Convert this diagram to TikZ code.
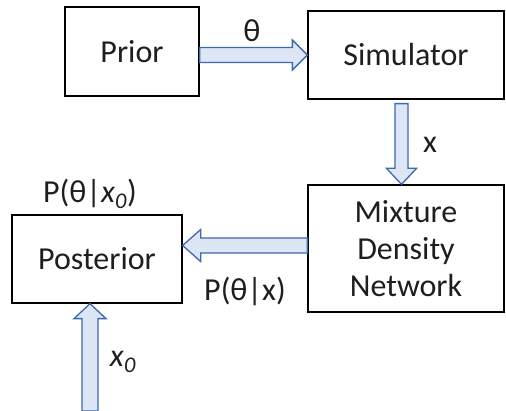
\documentclass[tikz,border=0pt]{standalone}
\usepackage{fontspec}
\setmainfont{Carlito}
\usetikzlibrary{calc}
\definecolor{arrfill}{HTML}{DCE6F4}
\definecolor{arrline}{HTML}{3F67AE}
\definecolor{txt}{HTML}{1E1E1E}
\newcommand{\blockarrow}[5]{%
  \path (#1) coordinate (baA) (#2) coordinate (baB);
  \path ($(baB)!#5!(baA)$) coordinate (baH);
  \draw[blockarr] ($(baA)!#3!90:(baB)$) -- ($(baH)!#3!-90:(baA)$) -- ($(baH)!#4!-90:(baA)$) -- (baB)
    -- ($(baH)!#4!90:(baA)$) -- ($(baH)!#3!90:(baA)$) -- ($(baA)!#3!-90:(baB)$) -- cycle;
}
\begin{document}
\begin{tikzpicture}[x=1pt,y=-1pt,
  box/.style={draw=black,line width=1.3pt,text=txt,align=center,inner sep=0pt,
    font=\fontsize{32}{37}\selectfont},
  lbl/.style={text=txt,inner sep=0pt,font=\fontsize{32}{37}\selectfont},
  blockarr/.style={fill=arrfill,draw=arrline,line width=1.3pt,line join=miter}]
\useasboundingbox (0,0) rectangle (506,411);
\node[box,minimum width=134pt,minimum height=89pt] (prior) at (132,51.5) {Prior};
\node[box,minimum width=196pt,minimum height=88pt] (sim) at (406,55) {Simulator};
\node[box,minimum width=196pt,minimum height=127pt] (mdn) at (406,248.5) {Mixture\\Density\\Network};
\node[box,minimum width=170pt,minimum height=88pt] (post) at (97,259) {Posterior};
\coordinate (obs) at (90,411);
% connectors
\blockarrow{prior.east |- sim.west}{sim.west}{7.5pt}{15pt}{15pt}
\coordinate (dA) at ($(sim.south)+(-4.5,4)$);
\blockarrow{dA}{dA |- mdn.north}{6.5pt}{15pt}{16pt}
\coordinate (lA) at ($(mdn.west)+(0,-3)$);
\blockarrow{lA}{lA -| post.east}{7.5pt}{16pt}{18pt}
\blockarrow{obs}{obs |- post.south}{8pt}{16pt}{15pt}
% labels
\node[lbl] (theta) at (252,31) {θ};
\node[lbl] (xlab) at (430,145) {x};
\node[lbl] (pobs) at (90,194) {P(θ|\textit{x}\textsubscript{\textit{0}})};
\node[lbl] (px) at (245,291) {P(θ|x)};
\node[lbl] (x0) at (123,362) {\textit{x}\textsubscript{\textit{0}}};
\end{tikzpicture}
\end{document}
